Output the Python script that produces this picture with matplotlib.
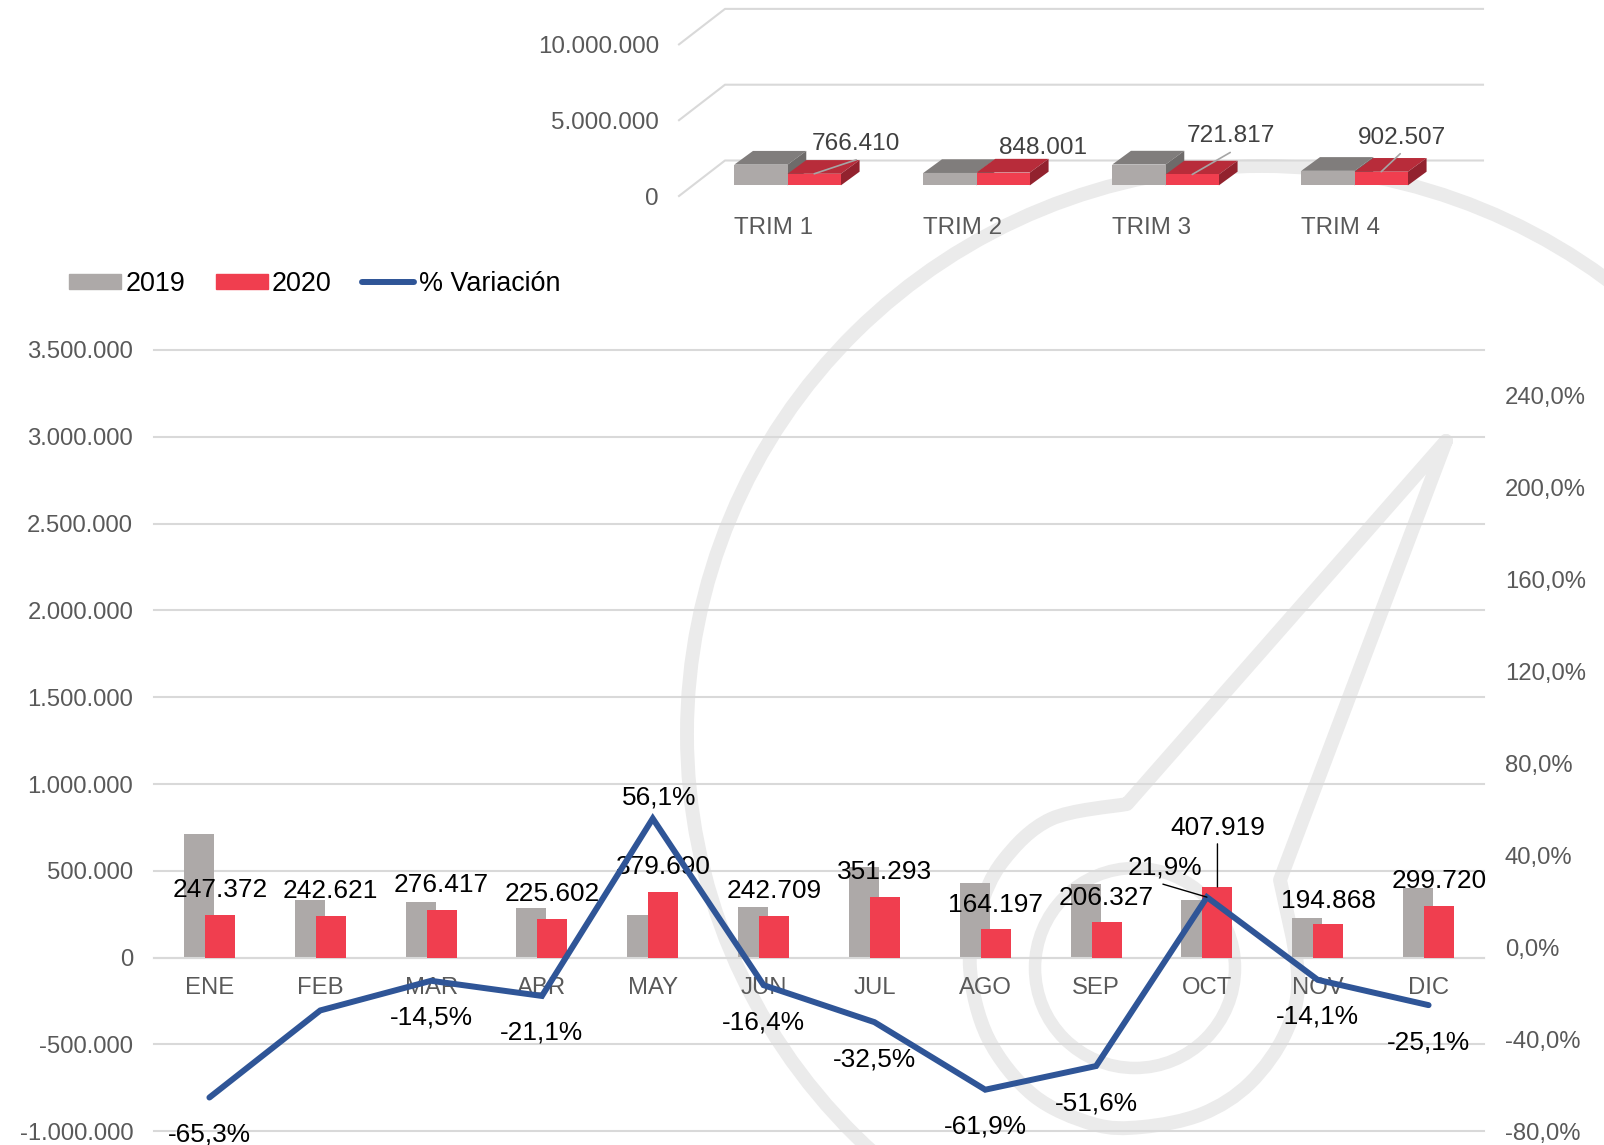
import numpy as np
import matplotlib
matplotlib.use("Agg")
import matplotlib.pyplot as plt
from matplotlib.patches import Polygon, PathPatch, Circle, Ellipse, Patch
from matplotlib.lines import Line2D
from matplotlib.path import Path

plt.rcParams['font.family'] = ['Liberation Sans', 'DejaVu Sans']

# Datos mensuales
meses = ['ENE', 'FEB', 'MAR', 'ABR', 'MAY', 'JUN', 'JUL', 'AGO', 'SEP', 'OCT', 'NOV', 'DIC']
v2019 = [713000, 334000, 323300, 285900, 243200, 290300, 520400, 431000, 426300, 334600, 226900, 400200]
v2020 = [247372, 242621, 276417, 225602, 379690, 242709, 351293, 164197, 206327, 407919, 194868, 299720]
variacion = [-65.3, -27.4, -14.5, -21.1, 56.1, -16.4, -32.5, -61.9, -51.6, 21.9, -14.1, -25.1]

# Datos trimestrales
trimestres = ['TRIM 1', 'TRIM 2', 'TRIM 3', 'TRIM 4']
t2019 = [1370000, 819400, 1378000, 962000]
t2020 = [766410, 848001, 721817, 902507]

ticks_izq = [-1000000, -500000, 0, 500000, 1000000, 1500000, 2000000, 2500000, 3000000, 3500000]
ticks_der = [-80, -40, 0, 40, 80, 120, 160, 200, 240]
ticks_trim = [0, 5000000, 10000000]

# Marca de agua, en pixeles de la figura
borde_int = [(1127, 804), (1051, 819), (1003, 861), (979, 911), (970, 968), (988, 1038), (1033, 1095),
             (1093, 1124), (1142, 1127), (1202, 1114), (1250, 1083), (1286, 1032), (1298, 975), (1280, 880)]
punta = (1446, 441)

GRIS, ROJO, AZUL = '#ADA9A8', '#F03E4F', '#2F5597'
GRID, TXT = '#D9D9D9', '#595959'
W, H = 1604, 1145


def fmt_miles(v):
    return f"{v:,}".replace(',', '.')


def fmt_pct(v):
    return f"{v:.1f}".replace('.', ',') + '%'


def suave(puntos):
    # catmull-rom a bezier, solo para el dibujo de fondo
    p = np.array(puntos, dtype=float)
    verts = [p[0]]
    for i in range(len(p) - 1):
        a = p[max(i - 1, 0)]
        b, c = p[i], p[i + 1]
        d = p[min(i + 2, len(p) - 1)]
        verts += [b + (c - a) / 6, c - (d - b) / 6, c]
    codes = [Path.MOVETO] + [Path.CURVE4] * (len(verts) - 1)
    return verts, codes


fig = plt.figure(figsize=(W / 100, H / 100), dpi=100)

# Fondo con la marca de agua
bg = fig.add_axes([0, 0, 1, 1], zorder=0)
bg.set_xlim(0, W)
bg.set_ylim(H, 0)
bg.axis('off')
MARCA = dict(fc='none', ec='#EBEBEB', lw=10, joinstyle='round', capstyle='round')
bg.add_patch(Ellipse((1262, 734), 1150, 1136, fc='none', ec='#EBEBEB', lw=10))
v, c = suave(borde_int)
v = [punta] + v + [punta]
c = [Path.MOVETO, Path.LINETO] + c[1:] + [Path.LINETO]
bg.add_patch(PathPatch(Path(v, c), **MARCA))
bg.add_patch(Circle((1135, 968), 100, fc='none', ec='#EBEBEB', lw=9))

# Grafico mensual
ax = fig.add_axes([154 / W, 1 - 1131.3 / H, 1330 / W, 781.3 / H], zorder=1)
ax.patch.set_alpha(0)
x = np.arange(len(meses))
ax.bar(x - 0.095, v2019, 0.27, color=GRIS, zorder=2)
ax.bar(x + 0.095, v2020, 0.27, color=ROJO, zorder=3)
ax.set_xlim(-0.5, 11.5)
ax.set_ylim(-1000000, 3500000)
ax.set_yticks(ticks_izq, [fmt_miles(t) for t in ticks_izq])
ax.set_xticks(x, meses)
ax.tick_params(axis='both', length=0, labelsize=17.2, labelcolor=TXT)
ax.tick_params(axis='y', pad=15)
ax.tick_params(axis='x', pad=14)
ax.grid(axis='y', color=GRID, lw=1.5)
ax.set_axisbelow(True)
for g in ax.get_ygridlines():
    g.set_clip_on(False)
for s in ['top', 'left', 'right']:
    ax.spines[s].set_visible(False)
ax.spines['bottom'].set_position(('data', 0))
ax.spines['bottom'].set_color(GRID)
ax.spines['bottom'].set_linewidth(1.5)

ax2 = ax.twinx()
ax2.set_zorder(2)
ax2.patch.set_alpha(0)
ax2.plot(x, variacion, color=AZUL, lw=4.3, solid_capstyle='round', solid_joinstyle='miter')
ax2.set_ylim(-80, 260)
ax2.set_yticks(ticks_der, [fmt_pct(t) for t in ticks_der])
ax2.tick_params(axis='y', length=0, labelsize=17.2, labelcolor=TXT, pad=15)
for s in ax2.spines.values():
    s.set_visible(False)

# Etiquetas de 2020 (desde el tope de la barra) y de la variacion (desde la linea)
sube_2020 = [25, 25, 25, 25, 25, 25, 25, 24, 24, 59, 23, 25]
desp_pct = [(0, -37), None, (0, -37), (0, -37), (6, 21), (0, -37), (0, -37), (0, -37), (0, -37),
            (-42, 30), (0, -37), (0, -37)]
for i in range(len(meses)):
    ax.annotate(fmt_miles(v2020[i]), (x[i] + 0.095, v2020[i]), xytext=(0, sube_2020[i]),
                textcoords='offset pixels', ha='center', va='center', fontsize=18.9, color='black',
                annotation_clip=False, zorder=6)
    if desp_pct[i] is not None:
        ax2.annotate(fmt_pct(variacion[i]), (x[i], variacion[i]), xytext=desp_pct[i],
                     textcoords='offset pixels', ha='center', va='center', fontsize=18.9, color='black',
                     annotation_clip=False)

# Lineas guia de octubre
ax.annotate('', (9.095, v2020[9]), xytext=(0, 43), textcoords='offset pixels',
            arrowprops=dict(arrowstyle='-', color='black', lw=1, shrinkA=0, shrinkB=0), zorder=6)
ax2.annotate('', (9, variacion[9]), xytext=(-44, 13), textcoords='offset pixels',
             arrowprops=dict(arrowstyle='-', color='black', lw=1, shrinkA=0, shrinkB=0))

# Leyenda
fig.legend(handles=[Patch(color=GRIS, label='2019'), Patch(color=ROJO, label='2020'),
                    Line2D([], [], color=AZUL, lw=4.3, solid_capstyle='round', label='% Variación')],
           loc='center left', bbox_to_anchor=(69 / W, 1 - 284 / H), ncol=3, frameon=False, fontsize=19.4,
           borderpad=0, borderaxespad=0, handlelength=1.93, handleheight=0.52, handletextpad=0.17,
           columnspacing=1.12, labelcolor='black')

# Grafico trimestral con aspecto 3D
PX_CAT, PX_VAL = 189, 15.16e-6
at = fig.add_axes([679 / W, 1 - 196 / H, 804 / W, 196 / H], zorder=3)
at.patch.set_alpha(0)
at.set_xlim(0, 804 / PX_CAT)
at.set_ylim(0, 196 / PX_VAL)
at.axis('off')
fondo_x, fondo_y = 46 / PX_CAT, 35.5 / PX_VAL
for t in ticks_trim:
    at.plot([0, fondo_x, 804 / PX_CAT], [t, t + fondo_y, t + fondo_y], color=GRID, lw=1.5, clip_on=False, zorder=1)
    at.annotate(fmt_miles(t), (0, t), xytext=(-20, -3), textcoords='offset pixels', ha='right', va='center',
                fontsize=17.4, color=TXT, annotation_clip=False)

base_x, base_y = 13.7 / PX_CAT, 10.6 / PX_VAL
prof_x, prof_y = 18.7 / PX_CAT, 13.7 / PX_VAL
ancho = 0.282


def caja(x0, valor, frente, arriba, lado):
    x0 += base_x
    x1 = x0 + ancho
    y0, y1 = base_y, base_y + valor
    at.add_patch(Polygon([(x0, y1), (x1, y1), (x1 + prof_x, y1 + prof_y), (x0 + prof_x, y1 + prof_y)],
                         fc=arriba, lw=0, zorder=3))
    at.add_patch(Polygon([(x1, y0), (x1 + prof_x, y0 + prof_y), (x1 + prof_x, y1 + prof_y), (x1, y1)],
                         fc=lado, lw=0, zorder=3))
    at.add_patch(Polygon([(x0, y0), (x1, y0), (x1, y1), (x0, y1)], fc=frente, lw=0, zorder=3))


desp_trim = [(42, 30), (40, 25), (39, 38), (21, 34)]
guia_trim = [(42, 14), None, (38, 22), (19, 18)]
for i in range(len(trimestres)):
    x0 = i + 0.22
    caja(x0, t2019[i], GRIS, '#807D7C', '#6E6B6A')
    caja(x0 + ancho, t2020[i], ROJO, '#B82C3A', '#92222E')
    ancla = (x0 + base_x + 1.5 * ancho, base_y + t2020[i])
    if guia_trim[i] is not None:
        at.annotate('', ancla, xytext=guia_trim[i], textcoords='offset pixels', zorder=5,
                    arrowprops=dict(arrowstyle='-', color='#A6A6A6', lw=1.2, shrinkA=0, shrinkB=0))
    at.annotate(fmt_miles(t2020[i]), ancla, xytext=desp_trim[i], textcoords='offset pixels',
                ha='center', va='center', fontsize=17.6, color='#404040', annotation_clip=False, zorder=5)
    at.annotate(trimestres[i], (x0 + base_x, 0), xytext=(0, -32), textcoords='offset pixels',
                ha='left', va='center', fontsize=17.4, color=TXT, annotation_clip=False)

fig.savefig('out.png', dpi=100)
